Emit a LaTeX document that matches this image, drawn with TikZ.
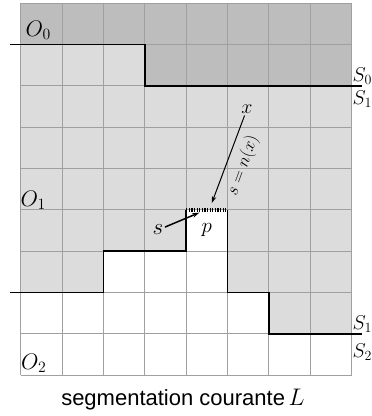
\RequirePackage{fix-cm}
\documentclass[tikz,border=0pt]{standalone}
\usepackage{fontspec}
\setsansfont{Liberation Sans}
\usetikzlibrary{arrows.meta}
\definecolor{darkfill}{RGB}{189,189,189}
\definecolor{lightfill}{RGB}{220,220,220}
\definecolor{gridgray}{RGB}{160,160,160}
\tikzset{
  gridline/.style={draw=gridgray, line width=0.9pt},
  boundary/.style={draw=black, line width=1.6pt},
  dotseg/.style={draw=black, line width=3.6pt, dash pattern=on 1.3pt off 1.3pt},
  mlabel/.style={inner sep=0pt, font=\fontsize{#1}{#1}\selectfont},
  ptr/.style={draw=black, line width=1pt, -{Stealth[length=7pt,width=4.5pt]}},
}
\begin{document}
\begin{tikzpicture}[x=1pt,y=-1pt]
\useasboundingbox (0,0) rectangle (372,416);
\begin{scope}[shift={(20.7,3)}, x=41.35pt, y=-41.35pt]
  \fill[darkfill] (0,0) -- (8,0) -- (8,2) -- (3,2) -- (3,1) -- (0,1) -- cycle;
  \fill[lightfill] (0,1) -- (3,1) -- (3,2) -- (8,2) -- (8,8) -- (6,8) -- (6,7) -- (5,7) -- (5,5) -- (4,5) -- (4,6) -- (2,6) -- (2,7) -- (0,7) -- cycle;
  \foreach \i in {0,...,8} { \draw[gridline] (\i,0) -- (\i,9); }
  \foreach \j in {0,...,9} { \draw[gridline] (0,\j) -- (8,\j); }
  \draw[boundary] (-0.26,1) -- (3,1) -- (3,2) -- (8.25,2);
  \draw[boundary] (-0.26,7) -- (2,7) -- (2,6) -- (4,6) -- (4,5);
  \draw[boundary] (5,5) -- (5,7) -- (6,7) -- (6,8) -- (8.25,8);
  \draw[dotseg] (4,5) -- (5,5);
  \coordinate (xtip) at (4.62,4.84);
  \coordinate (stip) at (4.32,5.07);
  \node[mlabel=21] (p) at (4.5,5.5) {$p$};
\end{scope}
\node[mlabel=22.5, anchor=base west] (O0) at (25.5,36.5) {$O_0$};
\node[mlabel=22.5, anchor=base west] (O1) at (20.5,206.5) {$O_1$};
\node[mlabel=22.5, anchor=base west] (O2) at (21,369.5) {$O_2$};
\node[mlabel=20, anchor=base west] (S0) at (352.3,81) {$S_0$};
\node[mlabel=20, anchor=base west] (S1a) at (352.3,104) {$S_1$};
\node[mlabel=20, anchor=base west] (S1b) at (352.3,329) {$S_1$};
\node[mlabel=20, anchor=base west] (S2) at (352.3,357) {$S_2$};
\node[mlabel=20, inner sep=2pt] (x) at (247,109) {$x$};
\node[mlabel=23, inner sep=1.5pt] (s) at (158,230) {$s$};
\draw[ptr] (x) -- (xtip);
\draw[ptr, line width=1.5pt] (s) -- (stip);
\node[mlabel=17.5, rotate=70] (eq) at (243,166) {$s=n(x)$};
\node[anchor=base, inner sep=0pt, font=\sffamily\fontsize{22}{26}\selectfont] (cap) at (183,405.5) {segmentation courante\,{\fontsize{24}{25}\selectfont$L$}};
\end{tikzpicture}
\end{document}
